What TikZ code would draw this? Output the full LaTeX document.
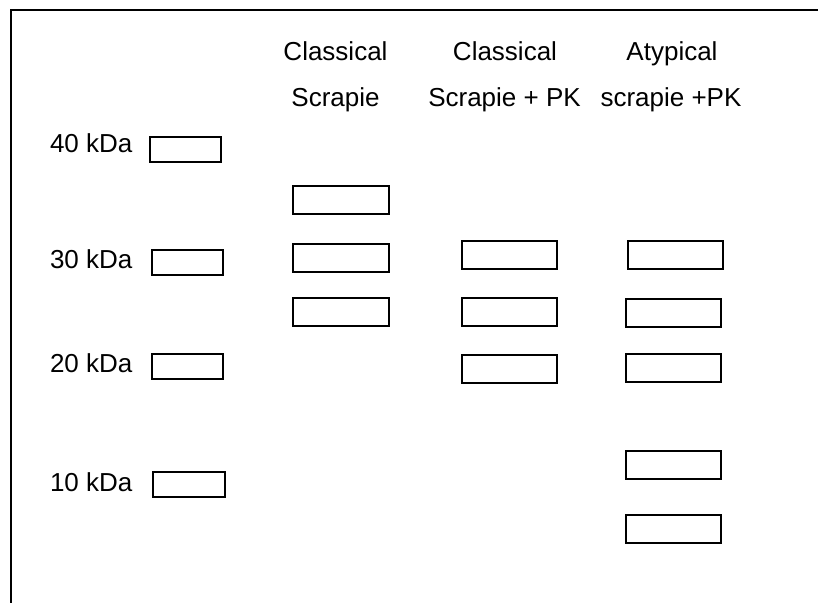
\documentclass[tikz,border=0pt]{standalone}
\usepackage{fontspec}
\setmainfont{Liberation Sans}
\begin{document}
\begin{tikzpicture}[x=1pt,y=-1pt,
  every node/.style={inner sep=0pt, outer sep=0pt},
  txt/.style={font=\fontsize{26}{30}\selectfont, anchor=base},
  lbl/.style={font=\fontsize{26}{30}\selectfont, anchor=base west},
  marker/.style={draw=black, line width=2pt, minimum width=71pt, minimum height=25pt},
  band/.style={draw=black, line width=2pt, minimum width=95pt, minimum height=28pt}]
\useasboundingbox (0,0) rectangle (818,603);
% open frame: top and left edges only
\coordinate (tr) at (818,9.5);
\coordinate (tl) at (11,9.5);
\coordinate (bl) at (11,603);
\draw[line width=2pt] (tr) -- (tl) -- (bl);

% lane headings
\node[txt] (h1a) at (335.5,60) {Classical};
\node[txt] (h1b) at (335.5,106) {Scrapie};
\node[txt] (h2a) at (505,60) {Classical};
\node[txt] (h2b) at (504.5,106) {Scrapie + PK};
\node[txt] (h3a) at (672,60) {Atypical};
\node[txt] (h3b) at (671,106) {scrapie +PK};

% molecular weight ladder
\node[lbl] (l40) at (50,152) {40 kDa};
\node[lbl] (l30) at (50,268) {30 kDa};
\node[lbl] (l20) at (50,372) {20 kDa};
\node[lbl] (l10) at (50,491) {10 kDa};
\node[marker] (m40) at (185.5,149) {};
\node[marker] (m30) at (187.5,262) {};
\node[marker] (m20) at (187.5,366) {};
\node[marker, minimum width=72pt] (m10) at (189,484.5) {};

% lane 1: classical scrapie
\node[band, minimum width=96pt] (a1) at (341,199.5) {};
\node[band, minimum width=96pt] (a2) at (341,258) {};
\node[band, minimum width=96pt] (a3) at (341,311.5) {};

% lane 2: classical scrapie + PK
\node[band] (b1) at (509.5,255) {};
\node[band] (b2) at (509.5,311.5) {};
\node[band] (b3) at (509.5,368.5) {};

% lane 3: atypical scrapie + PK
\node[band] (c1) at (675.5,254.5) {};
\node[band] (c2) at (673.5,312.5) {};
\node[band] (c3) at (673.5,368) {};
\node[band] (c4) at (673.5,464.5) {};
\node[band] (c5) at (673.5,528.5) {};
\end{tikzpicture}
\end{document}
